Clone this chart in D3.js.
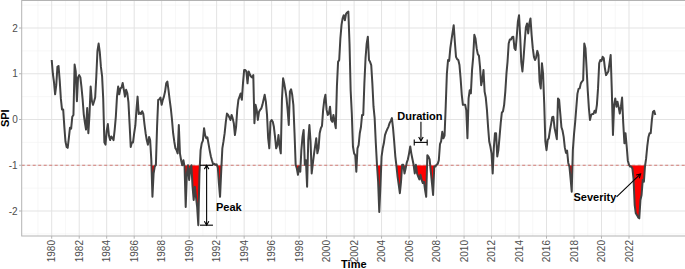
<!DOCTYPE html>
<html>
<head>
<meta charset="utf-8">
<script src="https://cdn.jsdelivr.net/npm/d3@7"></script>
<style>
  body { margin: 0; background: #fff; }
  svg { display: block; font-family: "Liberation Sans", Arial, sans-serif; }
</style>
</head>
<body>
<svg id="drawing_region"></svg>
<script>
// monthly SPI, Jan 1980 onwards
const startYear = 1980
const spi1980s = [
  1.30, 1.00, 0.82, 0.55, 0.75, 1.15, 1.17, 0.85, 0.45, 0.22, 0.22, -0.15,
  -0.48, -0.60, -0.62, -0.40, -0.18, -0.20, 0.06, 0.10, 1.20, 1.05, 0.40, 0.92,
  0.97, 0.92, 0.72, 0.45, 0.12, -0.07, -0.22, 0.25, -0.30, 0.10, 0.72, 0.42,
  0.32, 0.40, 0.48, 0.95, 1.50, 1.66, 1.48, 1.15, 0.95, 0.45, -0.50, -0.55,
  -0.25, -0.10, -0.35, -0.45, -0.37, -0.40, -0.45, -0.22, 0.07, 0.50, 0.72, 0.55,
  0.68, 0.70, 0.80, 0.65, 0.50, 0.65, 0.58, 0.38, -0.10, -0.60, -0.50, -0.50,
  -0.30, -0.13, 0.20, 0.50, 0.12, 0.15, 0.12, 0.18, 0.12, -0.10, -0.30, -0.45,
  -0.55, -0.38, -0.45, -0.88, -1.69, -1.18, -1.03, -0.99, -0.16, 0.43, 0.44, 0.48,
  0.32, 0.43, 0.50, 0.61, 0.79, 0.83, 0.64, 0.43, 0.24, 0.00, -0.30, -0.48,
  -0.63, -0.67, -0.74, -0.12, -0.74, -0.89, -1.00, -0.89, -1.03, -1.91, -1.18, -1.00
]
const spi1990s = [
  -1.32, -1.07, -1.00, -1.47, -1.76, -1.47, -1.69, -1.91, -2.31, -1.18, -0.67, -0.52,
  -0.46, -0.19, -0.34, -0.41, -0.39, -0.54, -0.68, -0.81, -0.90, -0.98, -0.97, -0.99,
  -0.98, -1.05, -1.39, -1.69, -1.14, -0.63, -0.48, -0.30, -0.05, 0.13, 0.10, 0.05,
  -0.01, 0.10, 0.03, -0.08, -0.34, -0.16, 0.21, 0.43, 0.50, 0.57, 0.43, 0.79,
  1.08, 1.08, 1.05, 0.79, 1.05, 0.99, 0.94, 0.92, 0.97, -0.08, 0.32, 0.21,
  -0.01, 0.17, 0.21, 0.24, 0.32, 0.43, 0.54, 0.39, 0.10, -0.41, -0.63, -0.05,
  -0.01, -0.05, -0.16, -0.38, -0.63, -0.56, -0.34, -0.59, -0.74, 0.43, 0.90, 0.79,
  0.64, 0.46, 0.21, -0.12, 0.61, 0.66, 0.54, 0.32, -0.30, -0.99, -1.07, -1.21,
  -1.03, -1.14, -0.67, -0.38, -0.23, -0.99, -0.89, -1.47, -0.45, -0.12, -0.48, -1.18,
  -0.96, -0.75, -0.59, -0.41, -0.74, -0.63, -0.30, -0.19, -0.14, 0.21, 0.43, 0.54
]
const spi2000s = [
  0.21, 0.10, 0.13, 0.28, -0.01, -0.05, 0.10, -0.05, -0.19, 0.72, 1.26, 1.30,
  1.77, 2.07, 2.21, 2.28, 2.17, 2.31, 2.34, 2.36, 1.66, 0.64, 0.13, -0.59,
  -0.74, -0.78, -1.14, -0.63, -0.56, -0.30, -0.17, 0.10, 0.10, 0.79, 1.34, 1.66,
  1.81, 1.30, 1.26, 1.19, 0.79, 0.28, 0.03, -0.52, -0.99, -1.36, -2.02, -1.47,
  -0.81, -0.63, -0.52, -0.34, -0.27, -0.21, -0.16, -0.08, -0.03, 0.03, -0.19, -0.48,
  -0.81, -1.03, -1.25, -1.43, -1.61, -1.36, -0.99, -0.99, -1.18, -1.07, -0.94, -0.87,
  -0.74, -0.59, -0.74, -0.87, -0.99, -1.18, -0.99, -1.18, -1.25, -1.31, -1.21, -1.32,
  -1.39, -1.36, -1.54, -1.69, -0.78, -0.81, -0.87, -1.14, -1.39, -1.65, -1.03, -1.03,
  -0.99, -0.97, -0.89, -0.54, -0.48, -0.27, -0.41, -0.35, 0.30, 1.00, 1.30, 1.28,
  1.56, 1.74, 1.90, 2.06, 1.70, 1.37, 1.32, 1.30, 1.19, 0.90, 0.54, 0.32
]
const spi2010s = [
  0.32, 0.32, 0.20, -0.41, 0.46, 0.64, 0.57, 1.08, 1.37, 1.85, 1.77, 1.56,
  1.43, 1.39, 1.15, 0.75, 0.86, 1.08, 0.61, 0.48, 0.21, -0.16, -0.48, -0.59,
  -0.74, -1.18, -0.63, -0.30, -0.30, -0.81, -0.67, -0.38, -0.08, 0.15, 0.18, 0.32,
  0.61, 1.01, 1.26, 1.66, 1.75, 1.75, 1.80, 1.81, 1.56, 1.52, 1.81, 2.14,
  2.28, 1.81, 1.26, 1.05, 1.34, 1.70, 2.01, 2.10, 1.88, 2.10, 2.21, 1.85,
  1.56, 1.37, 1.30, 1.36, 1.50, 1.41, 0.83, 0.68, 1.23, 1.01, 0.35, -0.48,
  -0.67, -0.45, -0.41, -0.24, -0.10, 0.05, 0.06, -0.18, -0.30, -0.43, 0.46, 0.43,
  0.13, -0.17, -0.24, -0.38, -0.61, -0.73, -0.68, -0.95, -1.03, -1.29, -1.58, -0.67,
  -0.32, -0.05, 0.24, 0.56, 0.67, 0.68, 0.79, 0.83, 0.86, 1.66, 1.56, 1.12,
  0.63, 0.24, -0.01, 0.10, 0.12, 0.12, 0.19, 0.15, 0.32, 0.68, 1.23, 1.30
]
const spi2020s = [
  1.28, 1.37, 1.34, 1.12, 0.97, 1.01, 1.05, 1.23, 1.41, 0.64, -0.34, 0.32,
  0.46, 0.28, 0.39, 0.27, 0.13, 0.28, 0.48, -0.08, -0.52, -0.30, -0.59, -0.90,
  -0.99, -1.03, -1.03, -1.07, -1.29, -1.87, -2.05, -2.09, -2.14, -2.16, -1.76, -1.65,
  -1.32, -1.36, -1.03, -0.85, -0.59, -0.39, -0.30, -0.30, -0.01, 0.17, 0.19, 0.10
]

// drought events shaded in red (first month, last month)
const droughtEvents = [
  ['1987-02', '1987-09'], ['1989-04', '1990-12'], ['1991-12', '1992-08'],
  ['1997-08', '1998-11'], ['2003-06', '2004-06'], ['2004-12', '2008-06'],
  ['2017-05', '2018-04'], ['2021-10', '2023-06']
]
const threshold = -1
const yTicks = [-2, -1, 0, 1, 2]
const yMinor = [-2.5, -1.5, -0.5, 0.5, 1.5, 2.5]
const xTickYears = d3.range(1980, 2023, 2)
const xMinorYears = d3.range(1979, 2024, 2)

const W = 685, H = 269
const panel = {left: 21.7, right: 686, top: 0.5, bottom: 236}

const svg = d3.select('#drawing_region').attr('width', W).attr('height', H)

const parseMonth = d3.timeParse('%Y-%m')
const spi = [].concat(spi1980s, spi1990s, spi2000s, spi2010s, spi2020s)
const data = spi.map((v, i) => ({date: d3.timeMonth.offset(new Date(startYear, 0, 1), i), spi: v}))

const x = d3.scaleTime()
  .domain([new Date(1980, 0, 1), new Date(2022, 0, 1)])
  .range([51.7, 629])
const y = d3.scaleLinear().domain([-2, 2]).range([211, 28])

// grid
const grid = svg.append('g')
grid.selectAll('.vminor').data(xMinorYears).enter().append('line')
  .attr('x1', d => x(new Date(d, 0, 1))).attr('x2', d => x(new Date(d, 0, 1)))
  .attr('y1', panel.top).attr('y2', panel.bottom)
  .attr('stroke', '#f2f2f2').attr('stroke-width', 0.6)
grid.selectAll('.hminor').data(yMinor).enter().append('line')
  .attr('x1', panel.left).attr('x2', panel.right)
  .attr('y1', d => y(d)).attr('y2', d => y(d))
  .attr('stroke', '#f2f2f2').attr('stroke-width', 0.6)
grid.selectAll('.vmajor').data(xTickYears).enter().append('line')
  .attr('x1', d => x(new Date(d, 0, 1))).attr('x2', d => x(new Date(d, 0, 1)))
  .attr('y1', panel.top).attr('y2', panel.bottom)
  .attr('stroke', '#e3e3e3').attr('stroke-width', 1)
grid.selectAll('.hmajor').data(yTicks).enter().append('line')
  .attr('x1', panel.left).attr('x2', panel.right)
  .attr('y1', d => y(d)).attr('y2', d => y(d))
  .attr('stroke', '#e3e3e3').attr('stroke-width', 1)

// red fill below threshold, only inside drought events
const clip = svg.append('clipPath').attr('id', 'eventClip')
clip.selectAll('rect').data(droughtEvents).enter().append('rect')
  .attr('x', d => x(parseMonth(d[0])))
  .attr('width', d => x(parseMonth(d[1])) - x(parseMonth(d[0])))
  .attr('y', y(threshold))
  .attr('height', panel.bottom - y(threshold))

const area = d3.area()
  .x(d => x(d.date))
  .y0(y(threshold))
  .y1(d => y(d.spi))
svg.append('path').datum(data)
  .attr('clip-path', 'url(#eventClip)')
  .attr('d', area)
  .attr('fill', '#ff0000')

// threshold
svg.append('line')
  .attr('x1', panel.left).attr('x2', panel.right)
  .attr('y1', y(threshold)).attr('y2', y(threshold))
  .attr('stroke', '#c94a44').attr('stroke-width', 0.7)
  .attr('stroke-dasharray', '3,2.5')

// SPI line
const line = d3.line().x(d => x(d.date)).y(d => y(d.spi))
svg.append('path').datum(data)
  .attr('d', line)
  .attr('fill', 'none')
  .attr('stroke', '#424242')
  .attr('stroke-width', 2)
  .attr('stroke-linejoin', 'round')

// panel border
svg.append('rect')
  .attr('x', panel.left).attr('y', panel.top)
  .attr('width', panel.right - panel.left).attr('height', panel.bottom - panel.top)
  .attr('fill', 'none').attr('stroke', '#b3b3b3').attr('stroke-width', 1)

// axes
const yAxis = svg.append('g')
yAxis.selectAll('line').data(yTicks).enter().append('line')
  .attr('x1', panel.left - 2.7).attr('x2', panel.left)
  .attr('y1', d => y(d)).attr('y2', d => y(d))
  .attr('stroke', '#b3b3b3')
yAxis.selectAll('text').data(yTicks).enter().append('text')
  .attr('x', panel.left - 4).attr('y', d => y(d)).attr('dy', '0.35em')
  .attr('text-anchor', 'end').attr('font-size', 10).attr('fill', '#4d4d4d')
  .text(d => d)

const xAxis = svg.append('g')
xAxis.selectAll('line').data(xTickYears).enter().append('line')
  .attr('x1', d => x(new Date(d, 0, 1))).attr('x2', d => x(new Date(d, 0, 1)))
  .attr('y1', panel.bottom).attr('y2', panel.bottom + 2.7)
  .attr('stroke', '#b3b3b3')
xAxis.selectAll('text').data(xTickYears).enter().append('text')
  .attr('transform', d => `translate(${x(new Date(d, 0, 1))},${panel.bottom + 4}) rotate(-90)`)
  .attr('dy', '0.35em')
  .attr('text-anchor', 'end').attr('font-size', 10).attr('fill', '#4d4d4d')
  .text(d => d)

svg.append('text')
  .attr('x', (panel.left + panel.right) / 2).attr('y', 267.5)
  .attr('text-anchor', 'middle').attr('font-size', 11).attr('font-weight', 'bold')
  .text('Time')
svg.append('text')
  .attr('transform', `translate(8.5,${(panel.top + panel.bottom) / 2}) rotate(-90)`)
  .attr('text-anchor', 'middle').attr('font-size', 11).attr('font-weight', 'bold')
  .text('SPI')

// annotations
const ann = svg.append('g').attr('stroke', '#000').attr('stroke-width', 1.1).attr('fill', 'none')

function arrowHead(g, x1, y1, x2, y2){
  // open head at (x2,y2) pointing away from (x1,y1)
  const a = Math.atan2(y2 - y1, x2 - x1), len = 4.5, sp = Math.PI / 6
  g.append('path')
    .attr('d', `M${x2 - len * Math.cos(a - sp)},${y2 - len * Math.sin(a - sp)}L${x2},${y2}L${x2 - len * Math.cos(a + sp)},${y2 - len * Math.sin(a + sp)}`)
}

// Peak
const peakX = x(new Date(1991, 3, 10))
const peakTop = y(threshold), peakBottom = y(d3.min(spi))
ann.append('line').attr('x1', x(new Date(1990, 9, 15))).attr('x2', x(new Date(1991, 8, 25)))
  .attr('y1', peakTop).attr('y2', peakTop)
ann.append('line').attr('x1', x(new Date(1990, 9, 15))).attr('x2', x(new Date(1991, 8, 25)))
  .attr('y1', peakBottom).attr('y2', peakBottom)
ann.append('line').attr('x1', peakX).attr('x2', peakX).attr('y1', peakTop).attr('y2', peakBottom)
arrowHead(ann, peakX, peakBottom, peakX, peakTop)
arrowHead(ann, peakX, peakTop, peakX, peakBottom)

// Duration
const durY = y(-0.5)
const durX1 = x(new Date(2006, 4, 18)), durX2 = x(new Date(2007, 3, 27))
ann.append('line').attr('x1', durX1).attr('x2', durX2).attr('y1', durY).attr('y2', durY)
ann.append('line').attr('x1', durX1).attr('x2', durX1).attr('y1', durY - 3).attr('y2', durY + 3)
ann.append('line').attr('x1', durX2).attr('x2', durX2).attr('y1', durY - 3).attr('y2', durY + 3)
const durAx = x(new Date(2006, 10, 12))
ann.append('line').attr('x1', durAx).attr('x2', durAx).attr('y1', y(-0.05)).attr('y2', durY - 1.5)
arrowHead(ann, durAx, y(-0.05), durAx, durY - 1.5)

// Severity
const sx1 = x(new Date(2021, 1, 5)), sy1 = y(-1.69)
const sx2 = x(new Date(2022, 10, 5)), sy2 = y(-1.19)
ann.append('line').attr('x1', sx1).attr('y1', sy1).attr('x2', sx2).attr('y2', sy2)
arrowHead(ann, sx1, sy1, sx2, sy2)

const labels = svg.append('g').attr('font-size', 11).attr('font-weight', 'bold').attr('fill', '#000')
labels.append('text').attr('x', x(new Date(1991, 11, 15))).attr('y', y(-2.0)).text('Peak')
labels.append('text').attr('x', x(new Date(2006, 9, 15))).attr('y', y(0)).attr('text-anchor', 'middle').text('Duration')
labels.append('text').attr('x', x(new Date(2019, 6, 10))).attr('y', y(-1.78)).attr('text-anchor', 'middle').text('Severity')
</script>
</body>
</html>
